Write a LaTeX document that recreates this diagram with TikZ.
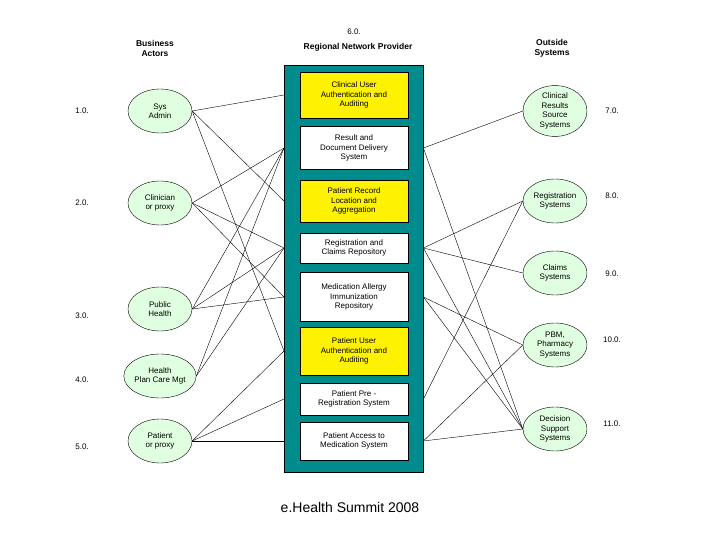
\documentclass[tikz,border=0pt]{standalone}
\usepackage{fontspec}
\setmainfont{Liberation Sans}
\usetikzlibrary{shapes.geometric}
\definecolor{tealb}{RGB}{0,140,140}
\begin{document}
\begin{tikzpicture}[x=1pt,y=-1pt,
 act/.style={ellipse,draw,fill=green!12,minimum width=64,minimum height=44,inner sep=0,font=\fontsize{8}{9.5}\selectfont,align=center},
 sv/.style={draw,fill=white,minimum width=108,inner sep=1,font=\fontsize{8}{9.5}\selectfont,align=center},
 yl/.style={sv,fill=yellow},
 lab/.style={font=\fontsize{8}{9.5}\selectfont,align=center},
 hd/.style={font=\bfseries\fontsize{8.5}{10}\selectfont,align=center}]
\useasboundingbox (0,0) rectangle (720,540);
\node[draw,fill=tealb,minimum width=139,minimum height=407,anchor=north west] (box) at (284,65) {};
\node[hd] (h1) at (155,48) {Business\\Actors};
\node[lab] (h2n) at (354,32) {6.0.};
\node[hd] (h2) at (358,47) {Regional Network Provider};
\node[hd] (h3) at (552,48) {Outside\\Systems};
% services
\node[yl,minimum height=46] (s1) at (354,95) {Clinical User\\Authentication and\\Auditing};
\node[sv,minimum height=43] (s2) at (354,148) {Result and\\Document Delivery\\System};
\node[yl,minimum height=42] (s3) at (354,201) {Patient Record\\Location and\\Aggregation};
\node[sv,minimum height=30] (s4) at (354,248) {Registration and\\Claims Repository};
\node[sv,minimum height=49] (s5) at (354,297) {Medication Allergy\\Immunization\\Repository};
\node[yl,minimum height=48] (s6) at (354,351) {Patient User\\Authentication and\\Auditing};
\node[sv,minimum height=32] (s7) at (354,399) {Patient Pre -\\Registration System};
\node[sv,minimum height=38] (s8) at (354,441) {Patient Access to\\Medication System};
% actors
\node[act] (a1) at (160,111) {Sys\\Admin};
\node[act] (a2) at (160,203) {Clinician\\or proxy};
\node[act] (a3) at (160,309) {Public\\Health};
\node[act] (a4) at (160,376) {Health\\Plan Care Mgt};
\node[act] (a5) at (160,441) {Patient\\or proxy};
\foreach \n/\t/\y in {n1/1.0./111,n2/2.0./203,n3/3.0./316,n4/4.0./380,n5/5.0./447}
  \node[lab] (\n) at (82,\y) {\t};
% outside systems
\node[act] (o1) at (555,111) {Clinical\\Results\\Source\\Systems};
\node[act] (o2) at (555,201) {Registration\\Systems};
\node[act] (o3) at (555,273) {Claims\\Systems};
\node[act] (o4) at (555,345) {PBM,\\Pharmacy\\Systems};
\node[act] (o5) at (555,429) {Decision\\Support\\Systems};
\foreach \n/\t/\y in {m1/7.0./111,m2/8.0./196,m3/9.0./274,m4/10.0./340,m5/11.0./424}
  \node[lab] (\n) at (612,\y) {\t};
\node[font=\fontsize{14}{16}\selectfont] (ft) at (350,507) {e.Health Summit 2008};
% left connectors
\foreach \a/\s in {a1/s1,a1/s3,a1/s6,a2/s2,a2/s4,a2/s5,a3/s2,a3/s4,a3/s5,a4/s2,a4/s4,a5/s6,a5/s7,a5/s8}
  \draw (\a.east) -- (box.west |- \s.west);
% right connectors
\foreach \s/\o in {s2/o1,s2/o5,s4/o2,s4/o3,s4/o5,s5/o4,s5/o5,s7/o2,s8/o4,s8/o5}
  \draw (box.east |- \s.east) -- (\o.west);
\end{tikzpicture}
\end{document}
